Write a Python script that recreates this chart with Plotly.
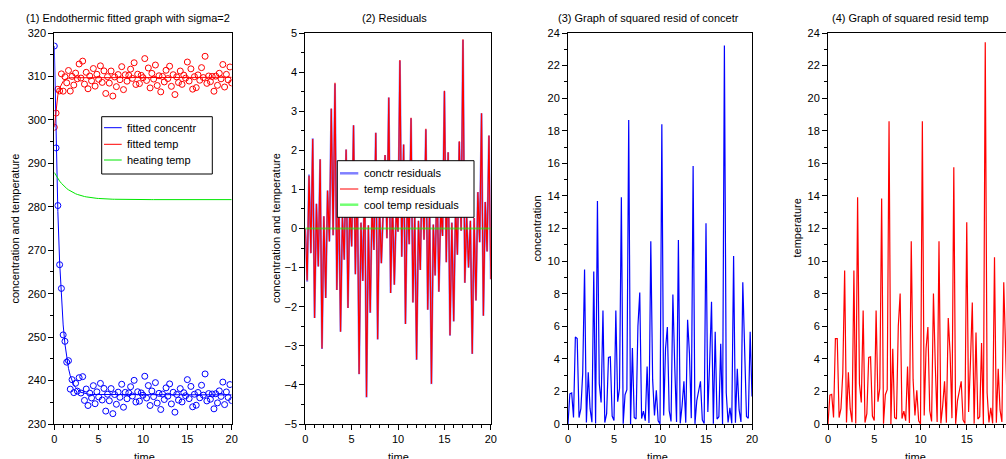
import plotly.graph_objects as go

W, H = 1006, 459

# ---------------- data ----------------
t = [0.0, 0.2, 0.4, 0.6, 0.8, 1.0, 1.2, 1.4, 1.6, 1.8,
     2.0, 2.2, 2.4, 2.6, 2.8, 3.0, 3.2, 3.4, 3.6, 3.8,
     4.0, 4.2, 4.4, 4.6, 4.8, 5.0, 5.2, 5.4, 5.6, 5.8,
     6.0, 6.2, 6.4, 6.6, 6.8, 7.0, 7.2, 7.4, 7.6, 7.8,
     8.0, 8.2, 8.4, 8.6, 8.8, 9.0, 9.2, 9.4, 9.6, 9.8,
     10.0, 10.2, 10.4, 10.6, 10.8, 11.0, 11.2, 11.4, 11.6, 11.8,
     12.0, 12.2, 12.4, 12.6, 12.8, 13.0, 13.2, 13.4, 13.6, 13.8,
     14.0, 14.2, 14.4, 14.6, 14.8, 15.0, 15.2, 15.4, 15.6, 15.8,
     16.0, 16.2, 16.4, 16.6, 16.8, 17.0, 17.2, 17.4, 17.6, 17.8,
     18.0, 18.2, 18.4, 18.6, 18.8, 19.0, 19.2, 19.4, 19.6, 19.8,
     20.0]

conc_fit = [317.0, 294.9, 278.9, 267.3, 258.9, 252.8, 248.4, 245.2, 242.8, 241.1,
            239.9, 239.0, 238.4, 237.9, 237.6, 237.3, 237.2, 237.0, 236.9, 236.9,
            236.8, 236.8, 236.8, 236.7, 236.7, 236.7, 236.7, 236.7, 236.7, 236.7,
            236.7, 236.7, 236.7, 236.7, 236.7, 236.7, 236.7, 236.7, 236.7, 236.7,
            236.7, 236.7, 236.7, 236.7, 236.7, 236.7, 236.7, 236.7, 236.7, 236.7,
            236.7, 236.7, 236.7, 236.7, 236.7, 236.7, 236.7, 236.7, 236.7, 236.7,
            236.7, 236.7, 236.7, 236.7, 236.7, 236.7, 236.7, 236.7, 236.7, 236.7,
            236.7, 236.7, 236.7, 236.7, 236.7, 236.7, 236.7, 236.7, 236.7, 236.7,
            236.7, 236.7, 236.7, 236.7, 236.7, 236.7, 236.7, 236.7, 236.7, 236.7,
            236.7, 236.7, 236.7, 236.7, 236.7, 236.7, 236.7, 236.7, 236.7, 236.7,
            236.7]

temp_fit = [298.3, 302.9, 305.7, 307.3, 308.3, 308.9, 309.3, 309.5, 309.6, 309.7,
            309.7, 309.8, 309.8, 309.8, 309.8, 309.8, 309.8, 309.8, 309.8, 309.8,
            309.8, 309.8, 309.8, 309.8, 309.8, 309.8, 309.8, 309.8, 309.8, 309.8,
            309.8, 309.8, 309.8, 309.8, 309.8, 309.8, 309.8, 309.8, 309.8, 309.8,
            309.8, 309.8, 309.8, 309.8, 309.8, 309.8, 309.8, 309.8, 309.8, 309.8,
            309.8, 309.8, 309.8, 309.8, 309.8, 309.8, 309.8, 309.8, 309.8, 309.8,
            309.8, 309.8, 309.8, 309.8, 309.8, 309.8, 309.8, 309.8, 309.8, 309.8,
            309.8, 309.8, 309.8, 309.8, 309.8, 309.8, 309.8, 309.8, 309.8, 309.8,
            309.8, 309.8, 309.8, 309.8, 309.8, 309.8, 309.8, 309.8, 309.8, 309.8,
            309.8, 309.8, 309.8, 309.8, 309.8, 309.8, 309.8, 309.8, 309.8, 309.8,
            309.8]

heat_temp = [287.90, 287.15, 286.49, 285.91, 285.40, 284.95, 284.55, 284.20, 283.90, 283.63,
             283.39, 283.18, 283.00, 282.84, 282.69, 282.57, 282.46, 282.36, 282.28, 282.20,
             282.13, 282.08, 282.03, 281.98, 281.94, 281.91, 281.87, 281.85, 281.82, 281.80,
             281.78, 281.76, 281.75, 281.74, 281.73, 281.72, 281.71, 281.70, 281.70, 281.69,
             281.68, 281.67, 281.67, 281.66, 281.66, 281.66, 281.65, 281.65, 281.65, 281.65,
             281.65, 281.65, 281.65, 281.65, 281.65, 281.65, 281.65, 281.65, 281.65, 281.65,
             281.65, 281.65, 281.65, 281.65, 281.65, 281.65, 281.65, 281.65, 281.65, 281.65,
             281.65, 281.65, 281.65, 281.65, 281.65, 281.65, 281.65, 281.65, 281.65, 281.65,
             281.65, 281.65, 281.65, 281.65, 281.65, 281.65, 281.65, 281.65, 281.65, 281.65,
             281.65, 281.65, 281.65, 281.65, 281.65, 281.65, 281.65, 281.65, 281.65, 281.65,
             281.65]

conc_resid = [0.00, -1.36, 1.38, -0.63, 2.31, -2.29, 0.63, -0.97, 1.77, -3.08,
              0.31, -1.78, 0.97, -0.33, 3.06, -0.17, 3.70, -1.57, 1.15, -2.64,
              0.30, -0.80, 2.02, -2.03, 0.70, -0.46, 2.64, -1.17, 1.48, -3.73,
              0.15, -1.34, 1.45, -4.32, 0.08, -2.16, 0.63, -0.55, 2.45, -2.84,
              0.58, -0.89, 0.45, 1.88, -0.25, 3.35, -1.65, 0.72, -1.44, 0.45,
              -0.08, 4.29, -0.72, 2.15, -2.44, 0.90, -0.40, 2.82, -1.89, 0.35,
              -3.36, 0.20, -1.06, 1.62, -0.29, 2.53, -2.08, 0.60, -3.98, 0.10,
              -1.20, 1.45, -1.62, 0.50, -0.19, 3.51, -0.86, 1.95, -2.74, 0.15,
              -2.38, 0.55, -0.67, 2.22, -0.06, 4.82, -1.39, 0.30, -1.00, 0.20,
              -3.21, 0.27, -1.84, 0.93, -0.35, 2.95, -2.23, 0.68, -0.59, 2.38,
              -1.30]

temp_resid = [0.00, -1.33, 1.35, -0.63, 2.29, -2.29, 0.63, -0.97, 1.77, -3.07,
              0.31, -1.78, 0.97, -0.33, 3.07, -0.17, 3.73, -1.57, 1.15, -2.64,
              0.30, -0.80, 2.02, -2.03, 0.70, -0.46, 2.64, -1.17, 1.48, -3.72,
              0.15, -1.34, 1.45, -4.31, 0.08, -2.15, 0.63, -0.55, 2.45, -2.83,
              0.58, -0.89, 0.45, 1.88, -0.25, 3.35, -1.65, 0.72, -1.44, 0.45,
              -0.08, 4.31, -0.72, 2.15, -2.44, 0.90, -0.40, 2.83, -1.89, 0.35,
              -3.35, 0.20, -1.06, 1.62, -0.29, 2.55, -2.08, 0.60, -3.97, 0.10,
              -1.20, 1.45, -1.62, 0.50, -0.19, 3.52, -0.86, 1.95, -2.73, 0.15,
              -2.37, 0.55, -0.67, 2.23, -0.06, 4.84, -1.39, 0.30, -1.00, 0.20,
              -3.20, 0.27, -1.84, 0.93, -0.35, 2.95, -2.23, 0.68, -0.59, 2.38,
              -1.30]

cool_resid = [0.0 for _ in t]

# measured data = fitted value + residual (definition of the residual in the chart)
conc_data = [f + r for f, r in zip(conc_fit, conc_resid)]
temp_data = [f + r for f, r in zip(temp_fit, temp_resid)]
sq_conc = [r * r for r in conc_resid]
sq_temp = [r * r for r in temp_resid]

titles = ["(1) Endothermic fitted graph with sigma=2", "(2) Residuals",
          "(3) Graph of squared resid of concetr", "(4) Graph of squared resid temp"]
ytitles = ["concentration and temperature", "concentration and temperature",
           "concentration", "temperature"]
legend1 = ["fitted concentr", "fitted temp", "heating temp"]
legend2 = ["conctr residuals", "temp residuals", "cool temp residuals"]

# ---------------- figure ----------------
FONT = "Liberation Sans, Arial, Helvetica, sans-serif"


def px(x):
    return x / W


def py(y):
    return 1 - y / H


fig = go.Figure()

# panel 1
fig.add_trace(go.Scatter(x=t, y=conc_data, mode="markers", xaxis="x", yaxis="y",
                         marker=dict(symbol="circle-open", size=6, color="blue", line=dict(width=1))))
fig.add_trace(go.Scatter(x=t, y=temp_data, mode="markers", xaxis="x", yaxis="y",
                         marker=dict(symbol="circle-open", size=6, color="red", line=dict(width=1))))
fig.add_trace(go.Scatter(x=t, y=conc_fit, mode="lines", xaxis="x", yaxis="y",
                         line=dict(color="blue", width=1)))
fig.add_trace(go.Scatter(x=t, y=temp_fit, mode="lines", xaxis="x", yaxis="y",
                         line=dict(color="red", width=1)))
fig.add_trace(go.Scatter(x=t, y=heat_temp, mode="lines", xaxis="x", yaxis="y",
                         line=dict(color="rgb(0,230,0)", width=1)))

# panel 2
fig.add_trace(go.Scatter(x=t, y=conc_resid, mode="lines", xaxis="x2", yaxis="y2",
                         line=dict(color="rgba(0,0,255,0.5)", width=2)))
fig.add_trace(go.Scatter(x=t, y=temp_resid, mode="lines", xaxis="x2", yaxis="y2",
                         line=dict(color="red", width=1.2)))
fig.add_trace(go.Scatter(x=t, y=cool_resid, mode="lines", xaxis="x2", yaxis="y2",
                         line=dict(color="rgba(0,255,0,0.55)", width=2)))

# panel 3
fig.add_trace(go.Scatter(x=t, y=sq_conc, mode="lines", xaxis="x3", yaxis="y3",
                         line=dict(color="blue", width=1.2)))
# panel 4
fig.add_trace(go.Scatter(x=t, y=sq_temp, mode="lines", xaxis="x4", yaxis="y4",
                         line=dict(color="red", width=1.2)))

ydom = [py(424), py(33)]
xdoms = [[px(54.3), px(231.7)], [px(305.3), px(490.8)], [px(568), px(752)], [px(828), 1.0]]
xranges = [[0, 20], [0, 20], [0, 20], [0, (1006 - 828) / 9.25]]
yranges = [[230, 320], [-5, 5], [0, 24], [0, 24]]
ydticks = [10, 1, 2, 2]
yminor = [5, 0.5, 1, 1]

tickfont = dict(family=FONT, size=11, color="black")
for k in range(4):
    sfx = "" if k == 0 else str(k + 1)
    fig.layout["xaxis" + sfx] = dict(
        domain=xdoms[k], range=xranges[k], anchor="y" + sfx,
        showline=True, linecolor="black", linewidth=1, mirror=True,
        ticks="outside", ticklen=5, tickwidth=1, tickcolor="black",
        tick0=0, dtick=5, tickfont=tickfont, showgrid=False, zeroline=False,
        minor=dict(ticks="outside", ticklen=3, dtick=1, tick0=0, tickcolor="black", showgrid=False),
        automargin=False, fixedrange=True)
    fig.layout["yaxis" + sfx] = dict(
        domain=ydom, range=yranges[k], anchor="x" + sfx,
        showline=True, linecolor="black", linewidth=1, mirror=(k != 3),
        ticks="outside", ticklen=5, tickwidth=1, tickcolor="black",
        tick0=0, dtick=ydticks[k], tickfont=tickfont, showgrid=False, zeroline=False,
        minor=dict(ticks="outside", ticklen=3, dtick=yminor[k], tickcolor="black", showgrid=False),
        automargin=False, fixedrange=True)

ann = []
title_cx = [128.3, 394.7, 648.3, 910.8]
for k in range(4):
    ann.append(dict(text=titles[k], x=px(title_cx[k]), y=py(17.5), xref="paper", yref="paper",
                    xanchor="center", yanchor="middle", showarrow=False,
                    font=dict(family=FONT, size=11, color="black")))
ytitle_x = [14, 275.5, 536, 796]
for k in range(4):
    ann.append(dict(text=ytitles[k], x=px(ytitle_x[k]), y=py(228.5), xref="paper", yref="paper",
                    xanchor="center", yanchor="middle", textangle=-90, showarrow=False,
                    font=dict(family=FONT, size=11, color="black")))
time_cx = [144, 398, 657, 915]
for k in range(4):
    ann.append(dict(text="time", x=px(time_cx[k]), y=py(449), xref="paper", yref="paper",
                    xanchor="center", yanchor="top", showarrow=False,
                    font=dict(family=FONT, size=11, color="black")))

shapes = []
# legend 1
shapes.append(dict(type="rect", xref="paper", yref="paper", x0=px(101.7), x1=px(212.3),
                   y0=py(174), y1=py(116.7), line=dict(color="black", width=1), fillcolor="white",
                   layer="above"))
l1_cols = ["blue", "red", "rgb(0,230,0)"]
l1_y = [127.7, 144.3, 160]
for i in range(3):
    shapes.append(dict(type="line", xref="paper", yref="paper", x0=px(104), x1=px(121.7),
                       y0=py(l1_y[i]), y1=py(l1_y[i]), line=dict(color=l1_cols[i], width=1),
                       layer="above"))
    ann.append(dict(text=legend1[i], x=px(125), y=py(l1_y[i]), xref="paper", yref="paper",
                    xanchor="left", yanchor="middle", showarrow=False,
                    font=dict(family=FONT, size=11, color="black")))
# legend 2
shapes.append(dict(type="rect", xref="paper", yref="paper", x0=px(337.3), x1=px(474),
                   y0=py(217.3), y1=py(160.7), line=dict(color="black", width=1), fillcolor="white",
                   layer="above"))
l2_cols = ["rgba(0,0,255,0.5)", "red", "rgba(0,255,0,0.55)"]
l2_w = [2.5, 1, 2.5]
l2_y = [173.3, 189, 204.7]
for i in range(3):
    shapes.append(dict(type="line", xref="paper", yref="paper", x0=px(340), x1=px(358.3),
                       y0=py(l2_y[i]), y1=py(l2_y[i]), line=dict(color=l2_cols[i], width=l2_w[i]),
                       layer="above"))
    ann.append(dict(text=legend2[i], x=px(361.7), y=py(l2_y[i]), xref="paper", yref="paper",
                    xanchor="left", yanchor="middle", showarrow=False,
                    font=dict(family=FONT, size=11, color="black")))

fig.update_layout(width=W, height=H, autosize=False, template="none",
                  margin=dict(l=0, r=0, t=0, b=0, pad=0),
                  paper_bgcolor="white", plot_bgcolor="white",
                  showlegend=False, annotations=ann, shapes=shapes,
                  font=dict(family=FONT, size=11, color="black"))

fig.write_html("out.html", config={"displayModeBar": False},
               post_script="document.body.style.margin='0';document.body.style.overflow='hidden';")
